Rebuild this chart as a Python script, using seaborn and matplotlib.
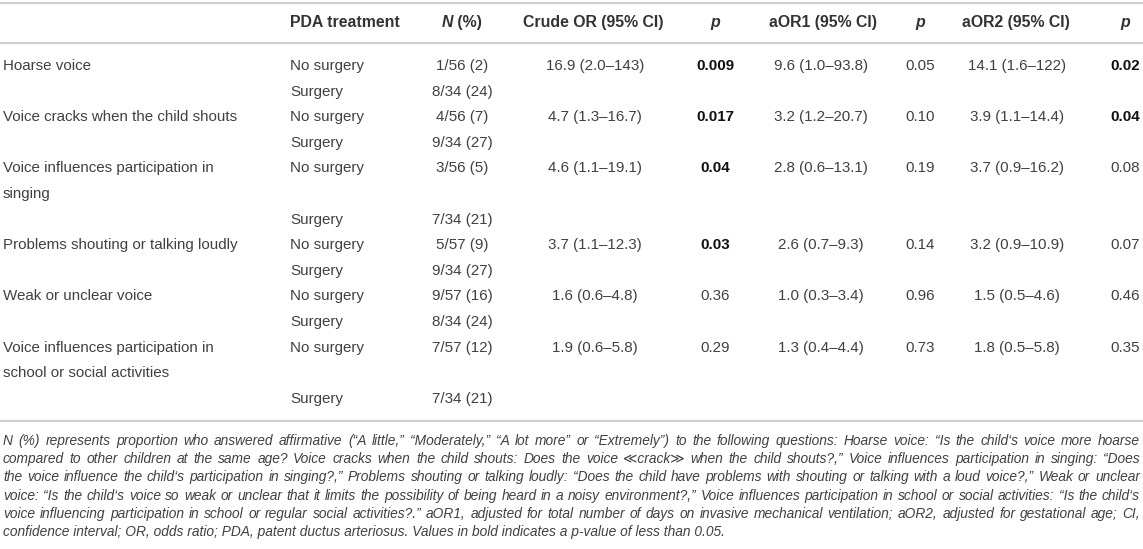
import numpy as np
import pandas as pd
import matplotlib
matplotlib.use("Agg")
import matplotlib.pyplot as plt
import seaborn as sns

# Table content
items = ["Hoarse voice",
         "Voice cracks when the child shouts",
         "Voice influences participation in\nsinging",
         "Problems shouting or talking loudly",
         "Weak or unclear voice",
         "Voice influences participation in\nschool or social activities"]
n_no_surgery = ["1/56 (2)", "4/56 (7)", "3/56 (5)", "5/57 (9)", "9/57 (16)", "7/57 (12)"]
n_surgery = ["8/34 (24)", "9/34 (27)", "7/34 (21)", "9/34 (27)", "8/34 (24)", "7/34 (21)"]
crude_or = ["16.9 (2.0–143)", "4.7 (1.3–16.7)", "4.6 (1.1–19.1)", "3.7 (1.1–12.3)", "1.6 (0.6–4.8)", "1.9 (0.6–5.8)"]
p_crude = ["0.009", "0.017", "0.04", "0.03", "0.36", "0.29"]
aor1 = ["9.6 (1.0–93.8)", "3.2 (1.2–20.7)", "2.8 (0.6–13.1)", "2.6 (0.7–9.3)", "1.0 (0.3–3.4)", "1.3 (0.4–4.4)"]
p_aor1 = ["0.05", "0.10", "0.19", "0.14", "0.96", "0.73"]
aor2 = ["14.1 (1.6–122)", "3.9 (1.1–14.4)", "3.7 (0.9–16.2)", "3.2 (0.9–10.9)", "1.5 (0.5–4.6)", "1.8 (0.5–5.8)"]
p_aor2 = ["0.02", "0.04", "0.08", "0.07", "0.46", "0.35"]
treatments = ["No surgery", "Surgery"]

footnote = [
    "N (%) represents proportion who answered affirmative (“A little,” “Moderately,” “A lot more” or “Extremely”) to the following questions: Hoarse voice: “Is the child‘s voice more hoarse",
    "compared to other children at the same age? Voice cracks when the child shouts: Does the voice ≪crack≫ when the child shouts?,” Voice influences participation in singing: “Does",
    "the voice influence the child‘s participation in singing?,” Problems shouting or talking loudly: “Does the child have problems with shouting or talking with a loud voice?,” Weak or unclear",
    "voice: “Is the child‘s voice so weak or unclear that it limits the possibility of being heard in a noisy environment?,” Voice influences participation in school or social activities: “Is the child‘s",
    "voice influencing participation in school or regular social activities?.” aOR1, adjusted for total number of days on invasive mechanical ventilation; aOR2, adjusted for gestational age; CI,",
    "confidence interval; OR, odds ratio; PDA, patent ductus arteriosus. Values in bold indicates a p-value of less than 0.05.",
]

df = pd.DataFrame({"item": items, "n_no": n_no_surgery, "n_s": n_surgery,
                   "crude": crude_or, "p0": p_crude, "aor1": aor1, "p1": p_aor1,
                   "aor2": aor2, "p2": p_aor2})

sns.set_theme(style="white")
plt.rcParams["font.family"] = ["Liberation Sans", "DejaVu Sans"]

W, H = 1143, 549
fig = plt.figure(figsize=(W / 100, H / 100), dpi=100)
ax = fig.add_axes([0, 0, 1, 1])
ax.set_xlim(0, W)
ax.set_ylim(H, 0)
ax.axis("off")
renderer = fig.canvas.get_renderer()

TXT = "#404040"
LINE = "#cfcfcf"


def text_w(s, **kw):
    t = ax.text(0, 0, s, **kw)
    w = t.get_window_extent(renderer).width
    t.remove()
    return w


left, right = 3, 1140

# pick font sizes from measured widths in the reference
body_fs = 10 * 236 / text_w("Voice cracks when the child shouts", fontsize=10)
head_fs = 10 * 141 / text_w("Crude OR (95% CI)", fontsize=10, fontweight="bold")
widest = max(text_w(ln, fontsize=10, style="italic") for ln in footnote[:-1])
note_fs = 10 * (right - left - 4) / widest

# column centres
x_item, x_treat, x_n = 3, 290, 462
x_crude, x_p0, x_aor1, x_p1, x_aor2, x_p2 = 595, 715, 821, 920, 1017, 1125

# horizontal rules
for y in [3, 43, 421]:
    ax.plot([0, W], [y, y], color=LINE, lw=1.6, solid_capstyle="butt")

# header
hy = 22.5
hkw = dict(fontsize=head_fs, fontweight="bold", color="#333333", va="center")
ax.text(x_treat, hy, "PDA treatment", ha="left", **hkw)
w1 = text_w("N", fontsize=head_fs, fontweight="bold", style="italic")
w2 = text_w(" (%)", fontsize=head_fs, fontweight="bold")
x0 = x_n - (w1 + w2) / 2
ax.text(x0, hy, "N", ha="left", style="italic", **hkw)
ax.text(x0 + w1, hy, " (%)", ha="left", **hkw)
ax.text(593, hy, "Crude OR (95% CI)", ha="center", **hkw)
ax.text(823, hy, "aOR1 (95% CI)", ha="center", **hkw)
ax.text(1016, hy, "aOR2 (95% CI)", ha="center", **hkw)
for px in [x_p0, x_p1, x_p2]:
    ax.text(px, hy, "p", ha="center", style="italic", **hkw)

# body rows
y0, pitch = 66, 25.6
bkw = dict(fontsize=body_fs, color=TXT, va="center")
slot = 0
for _, r in df.iterrows():
    lines = r["item"].split("\n")
    for k, ln in enumerate(lines):
        ax.text(x_item, y0 + pitch * (slot + k), ln, ha="left", **bkw)
    ys = y0 + pitch * slot
    ysg = y0 + pitch * (slot + len(lines))
    ax.text(x_treat, ys, treatments[0], ha="left", **bkw)
    ax.text(x_treat, ysg, treatments[1], ha="left", **bkw)
    ax.text(x_n, ys, r["n_no"], ha="center", **bkw)
    ax.text(x_n, ysg, r["n_s"], ha="center", **bkw)
    ax.text(x_crude, ys, r["crude"], ha="center", **bkw)
    ax.text(x_aor1, ys, r["aor1"], ha="center", **bkw)
    ax.text(x_aor2, ys, r["aor2"], ha="center", **bkw)
    for px, key in [(x_p0, "p0"), (x_p1, "p1"), (x_p2, "p2")]:
        bold = float(r[key]) < 0.05
        ax.text(px, ys, r[key], ha="center", fontsize=body_fs, va="center",
                fontweight="bold" if bold else "normal",
                color="#111111" if bold else TXT)
    slot += len(lines) + 1

# footnote, justified except the last line
nkw = dict(fontsize=note_fs, style="italic", color=TXT, va="center")
for i, ln in enumerate(footnote):
    y = 441 + 18.2 * i
    if i == len(footnote) - 1:
        ax.text(left, y, ln, ha="left", **nkw)
        continue
    words = ln.split(" ")
    widths = [text_w(w, **nkw) for w in words]
    gap = (right - left - sum(widths)) / (len(words) - 1)
    x = left
    for w, wd in zip(words, widths):
        ax.text(x, y, w, ha="left", **nkw)
        x += wd + gap

fig.savefig("out.png", dpi=100)
